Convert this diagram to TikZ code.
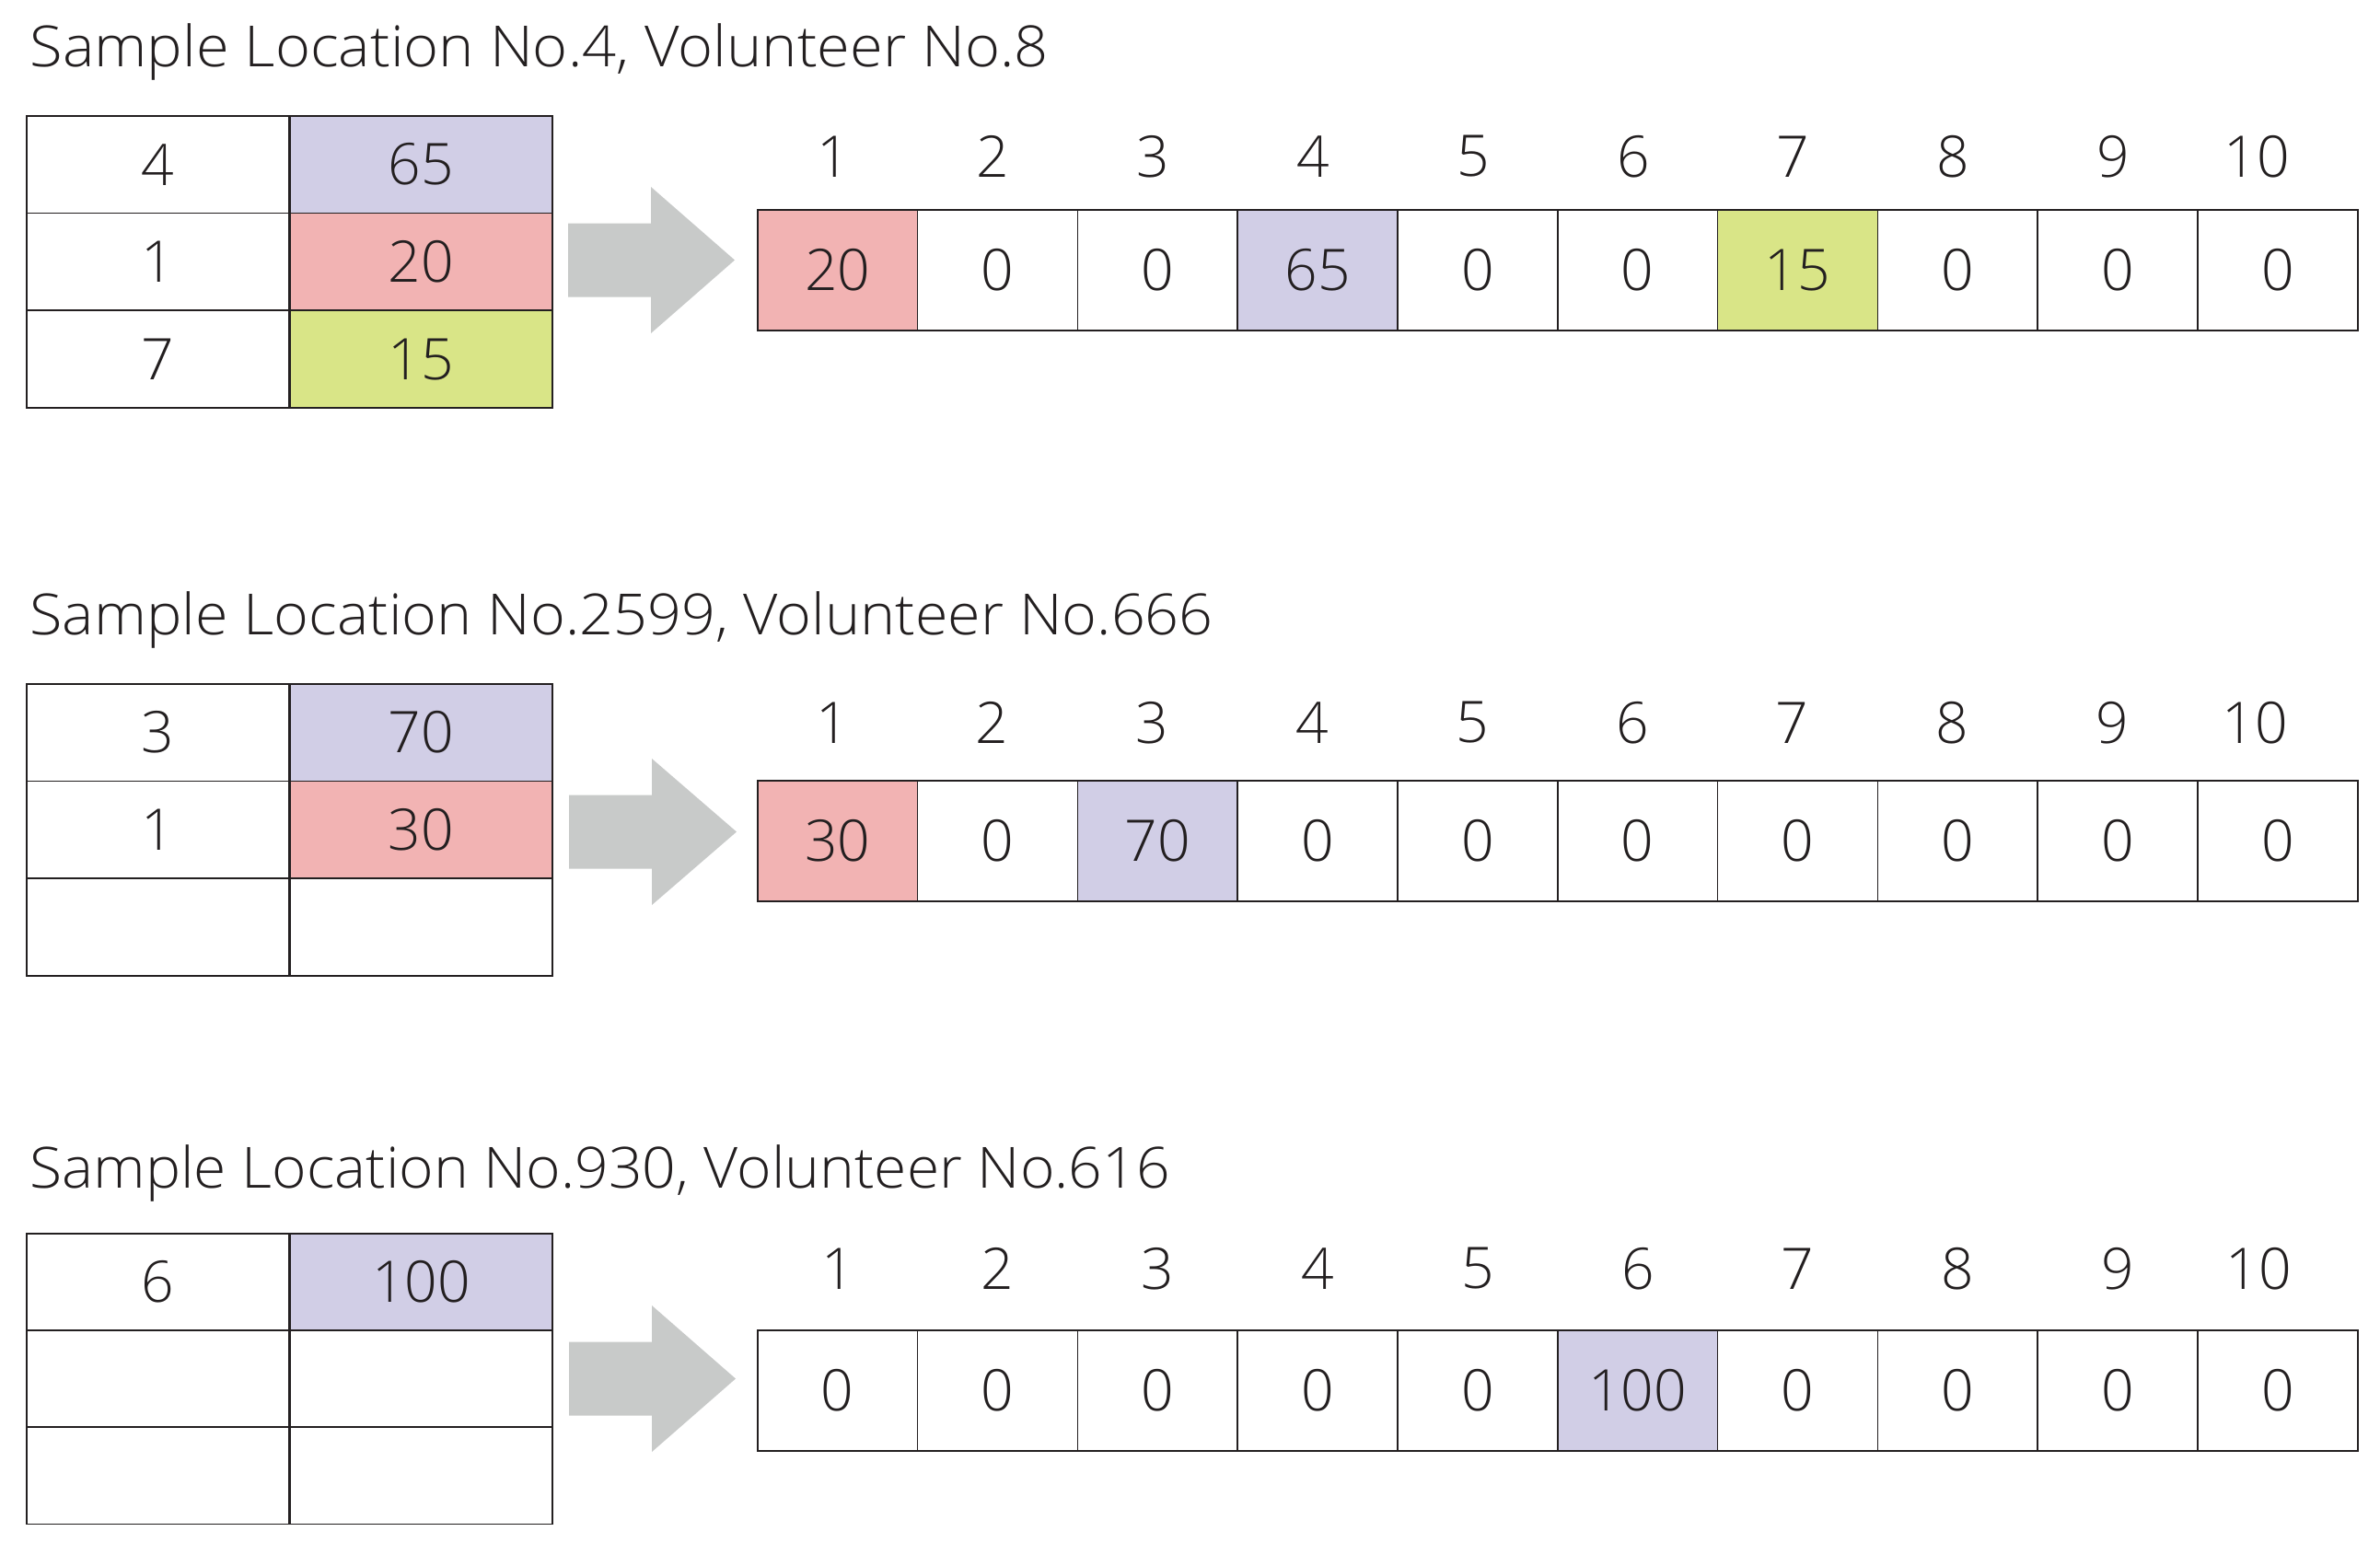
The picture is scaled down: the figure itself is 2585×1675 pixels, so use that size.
\documentclass[tikz,border=0pt]{standalone}
\usepackage{fontspec}
\setmainfont{Open Sans Light}
\definecolor{cpur}{HTML}{D1CEE6}
\definecolor{cpink}{HTML}{F2B3B3}
\definecolor{cyel}{HTML}{D9E587}
\definecolor{carrow}{HTML}{C8CAC9}
\definecolor{cline}{HTML}{231F20}
\newcommand\numfont{\fontsize{18.7pt}{20pt}\selectfont}
\newcommand\titfont{\fontsize{18.5pt}{20pt}\selectfont}
\begin{document}
\begin{tikzpicture}[x=0.3pt,y=-0.3pt,
  every node/.style={text=cline},
  lcell/.style={draw=cline, line width=0.5pt, anchor=north west, inner sep=0pt,
    minimum width=85.6pt, minimum height=31.7pt, font=\numfont},
  rcell/.style={draw=cline, line width=0.5pt, anchor=north west, inner sep=0pt,
    minimum width=52.14pt, minimum height=39.3pt, font=\numfont},
  idx/.style={inner sep=0pt, font=\numfont},
  title/.style={anchor=base west, inner sep=0pt, font=\titfont},
  bigarrow/.style={fill=carrow, draw=none}]
\useasboundingbox[fill=white] (0,0) rectangle (2585,1675);

% ---------- Sample 1 ----------
\node[title] (t1) at (32,72) {\resizebox{331.8pt}{\height}{Sample Location No.4, Volunteer No.8}};
\foreach \a/\b/\c [count=\j] in {4/65/cpur,1/20/cpink,7/15/cyel} {
  \node[lcell] (s1a\j) at (28,{125+105.7*(\j-1)}) {\a};
  \node[lcell, fill=\c] (s1b\j) at (314,{125+105.7*(\j-1)}) {\b};
}
\path[bigarrow] (617,242.5) -- (707,242.5) -- (707,203) -- (798,282.5) -- (707,362) -- (707,322.5) -- (617,322.5) -- cycle;
\foreach \v/\c [count=\i] in {20/cpink,0/white,0/white,65/cpur,0/white,0/white,15/cyel,0/white,0/white,0/white} {
  \node[rcell, fill=\c] (s1r\i) at ({822+173.8*(\i-1)},227) {\v};
  \pgfmathsetmacro{\dx}{ifthenelse(\i==10,-22,-4)}
  \node[idx] (s1i\i) at ({822+173.8*(\i-0.5)+\dx},170) {\i};
}

% ---------- Sample 2 ----------
\node[title] (t2) at (32,689) {\resizebox{385.5pt}{\height}{Sample Location No.2599, Volunteer No.666}};
\foreach \a/\b/\c [count=\j] in {3/70/cpur,1/30/cpink,{}/{}/white} {
  \node[lcell] (s2a\j) at (28,{742+105.7*(\j-1)}) {\a};
  \node[lcell, fill=\c] (s2b\j) at (314,{742+105.7*(\j-1)}) {\b};
}
\path[bigarrow] (618,863.5) -- (708,863.5) -- (708,824) -- (800,903.5) -- (708,983) -- (708,943.5) -- (618,943.5) -- cycle;
\foreach \v/\c [count=\i] in {30/cpink,0/white,70/cpur,0/white,0/white,0/white,0/white,0/white,0/white,0/white} {
  \node[rcell, fill=\c] (s2r\i) at ({822+173.8*(\i-1)},847) {\v};
  \pgfmathsetmacro{\dx}{ifthenelse(\i==10,-24,-5)}
  \node[idx] (s2i\i) at ({822+173.8*(\i-0.5)+\dx},785) {\i};
}

% ---------- Sample 3 ----------
\node[title] (t3) at (32,1290) {\resizebox{371.4pt}{\height}{Sample Location No.930, Volunteer No.616}};
\foreach \a/\b/\c [count=\j] in {6/100/cpur,{}/{}/white,{}/{}/white} {
  \node[lcell] (s3a\j) at (28,{1339+105*(\j-1)}) {\a};
  \node[lcell, fill=\c] (s3b\j) at (314,{1339+105*(\j-1)}) {\b};
}
\path[bigarrow] (618,1457.5) -- (708,1457.5) -- (708,1418) -- (799,1497.5) -- (708,1577) -- (708,1537.5) -- (618,1537.5) -- cycle;
\foreach \v/\c [count=\i] in {0/white,0/white,0/white,0/white,0/white,100/cpur,0/white,0/white,0/white,0/white} {
  \node[rcell, fill=\c] (s3r\i) at ({822+173.8*(\i-1)},1444) {\v};
  \pgfmathsetmacro{\dx}{ifthenelse(\i==10,-20,1)}
  \node[idx] (s3i\i) at ({822+173.8*(\i-0.5)+\dx},1378) {\i};
}
\end{tikzpicture}
\end{document}
